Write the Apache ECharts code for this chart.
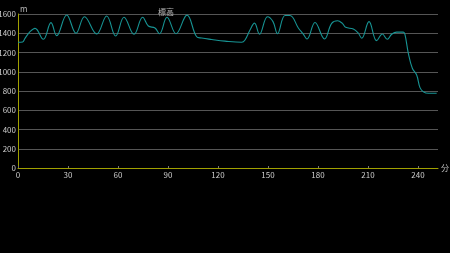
<!DOCTYPE html>
<html><head><meta charset="utf-8">
<script src="https://cdn.jsdelivr.net/npm/echarts@6/dist/echarts.min.js"></script>
<style>html,body{margin:0;padding:0;background:#000;}#c{width:450px;height:253px;}</style>
</head><body><div id="c"></div>
<script>
const times = [0,2.8,4.2,7.2,10.2,15.2,19.8,23.2,29.2,34.8,39.9,47.2,53.2,58.6,63.6,69.6,74.8,78.2,82.2,84.9,89.4,94.8,101.4,107.2,110.2,116.2,124.2,134.2,136.2,139.2,141.9,144.9,149.7,153,155.7,160.2,163.2,168.2,171.2,173.4,178.2,183.9,188.2,191.8,194.6,196.6,201.2,204.2,206.2,210.6,215.2,218.6,221.6,224.2,227.2,231.2,232.2,234.2,236.6,239.2,241.2,243.2,246.2,251.2];
const elevation = [1306,1310,1347,1416,1451,1337,1510,1375,1590,1400,1572,1392,1580,1371,1566,1389,1566,1475,1455,1395,1566,1395,1588,1364,1350,1335,1318,1306,1330,1434,1505,1390,1572,1521,1395,1585,1585,1455,1390,1340,1512,1340,1503,1530,1503,1462,1444,1400,1348,1521,1323,1392,1337,1389,1412,1412,1385,1192,1036,966,835,793,776,776];
const seriesName = '標高';
const yName = 'm';
const xName = '分';

const chart = echarts.init(document.getElementById('c'));
const font = '"Noto Sans CJK JP", "Noto Sans", sans-serif';
chart.setOption({
  backgroundColor: '#000',
  animation: false,
  title: { text: seriesName, left: 153, top: 3, textStyle: { color: '#bbb', fontSize: 8, fontWeight: 'normal', fontFamily: font } },
  grid: { left: 18, right: 12, top: 14, bottom: 85, containLabel: false, outerBoundsMode: 'none' },
  xAxis: {
    type: 'value', min: 0, max: 252, interval: 30,
    name: xName, nameGap: 3, nameMoveOverlap: false,
    nameTextStyle: { color: '#bbb', fontSize: 8, fontFamily: font },
    axisLine: { lineStyle: { color: '#a0a000', width: 1 } },
    axisTick: { show: true, inside: true, length: 2, lineStyle: { color: '#777' } },
    axisLabel: { color: '#ccc', fontSize: 8, margin: 3, showMaxLabel: false, fontFamily: font },
    splitLine: { show: false }
  },
  yAxis: {
    type: 'value', min: 0, max: 1600, interval: 200,
    name: yName, nameGap: 1, nameLocation: 'end', nameMoveOverlap: false,
    nameTextStyle: { color: '#bbb', fontSize: 8, align: 'left', verticalAlign: 'bottom', padding: [0, 0, 0, 2], fontFamily: font },
    axisLine: { show: true, onZero: false, lineStyle: { color: '#a0a000', width: 1 } },
    axisTick: { show: false },
    axisLabel: { color: '#ccc', fontSize: 8, margin: 2, fontFamily: font, formatter: v => String(v) },
    splitLine: { show: true, lineStyle: { color: '#555', width: 1 } }
  },
  series: [{
    name: seriesName, type: 'line', smooth: 0.4, showSymbol: false,
    lineStyle: { color: '#179494', width: 1.1 },
    data: times.map((t, i) => [t, elevation[i]])
  }]
});
</script></body></html>
